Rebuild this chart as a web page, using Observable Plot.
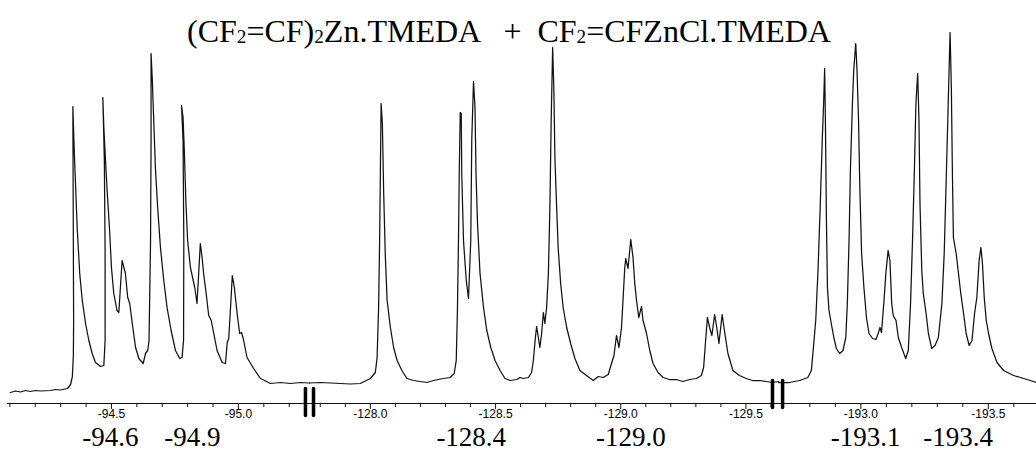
<!DOCTYPE html>
<html><head><meta charset="utf-8">
<script src="https://cdn.jsdelivr.net/npm/d3@7"></script>
<script src="https://cdn.jsdelivr.net/npm/@observablehq/plot@0.6"></script>
<style>
body{margin:0;background:#fff;}
#wrap{position:relative;width:1036px;height:452px;overflow:hidden;}
#chart{position:absolute;left:0;top:0;}
#title{position:absolute;left:187px;top:15px;font-family:"Liberation Serif","Times New Roman","DejaVu Serif",serif;font-size:32px;line-height:32px;white-space:pre;color:#000;}
#title .s{font-size:0.6em;vertical-align:-0.06em;}
</style></head><body>
<div id="wrap"><div id="chart"></div><div id="title">(CF<span class="s">2</span>=CF)<span class="s">2</span>Zn.TMEDA   +  CF<span class="s">2</span>=CFZnCl.TMEDA</div></div>
<script>
// ---- data: 19F chemical shift (ppm) vs intensity (arbitrary units) ----
const spectrumA = [ // -94 ... -95.3 ppm
[-94.102,-11],[-94.122,-9.5],[-94.142,-10.5],[-94.161,-9],[-94.181,-10],[-94.201,-9],[-94.220,-9.5],[-94.260,-9],[-94.280,-8],[-94.299,-8.5],
[-94.327,-7],[-94.339,-3],[-94.346,5],[-94.350,26],[-94.351,61],[-94.350,131],[-94.349,201],[-94.348,275],[-94.352,241],[-94.358,201],
[-94.365,154],[-94.375,108],[-94.385,81],[-94.398,58],[-94.411,41],[-94.424,28],[-94.437,19],[-94.457,15],[-94.470,16],[-94.475,41],
[-94.475,131],[-94.472,221],[-94.466,284],[-94.470,254],[-94.476,224],[-94.483,191],[-94.492,154],[-94.500,114],[-94.509,88],[-94.522,71],
[-94.529,69],[-94.542,121],[-94.555,108],[-94.564,84],[-94.572,78],[-94.582,58],[-94.595,34],[-94.608,23],[-94.625,18],[-94.634,28],
[-94.643,31],[-94.648,41],[-94.654,141],[-94.656,241],[-94.656,328],[-94.661,301],[-94.667,258],[-94.673,214],[-94.682,174],[-94.693,134],
[-94.706,101],[-94.719,74],[-94.735,51],[-94.752,31],[-94.769,23],[-94.778,24],[-94.784,41],[-94.785,141],[-94.782,241],[-94.776,276],
[-94.782,264],[-94.787,231],[-94.793,181],[-94.800,141],[-94.811,114],[-94.822,101],[-94.828,94],[-94.837,78],[-94.850,138],[-94.857,124],
[-94.863,108],[-94.873,88],[-94.883,66],[-94.893,61],[-94.903,48],[-94.916,31],[-94.936,19],[-94.949,18],[-94.956,39],[-94.962,43],
[-94.969,74],[-94.976,106],[-94.984,94],[-94.995,68],[-95.005,48],[-95.012,49],[-95.019,43],[-95.034,24],[-95.060,13],[-95.087,3],
[-95.126,-2],[-95.165,-1],[-95.205,-2],[-95.244,-1],[-95.280,-1.5]
];
const spectrumB = [ // -127.8 ... -129.6 ppm
[-127.757,-1.5],[-127.801,-1],[-127.881,-2],[-127.920,-2.5],[-127.960,-2],[-128.000,3],[-128.020,9],[-128.027,24],[-128.033,74],[-128.037,141],
[-128.040,208],[-128.043,278],[-128.048,258],[-128.053,191],[-128.060,124],[-128.067,81],[-128.080,54],[-128.093,34],[-128.107,21],[-128.126,11],
[-128.146,3],[-128.173,1],[-128.199,0],[-128.226,-1],[-128.252,1],[-128.292,3],[-128.319,4],[-128.335,8],[-128.343,21],[-128.348,74],
[-128.352,141],[-128.355,208],[-128.359,269],[-128.363,268],[-128.365,208],[-128.372,141],[-128.383,101],[-128.392,83],[-128.401,141],[-128.405,241],
[-128.412,300],[-128.418,274],[-128.422,208],[-128.428,158],[-128.438,108],[-128.452,74],[-128.465,51],[-128.481,34],[-128.498,21],[-128.518,11],
[-128.538,3],[-128.558,1],[-128.585,2],[-128.598,4],[-128.611,3],[-128.631,4],[-128.644,9],[-128.651,21],[-128.658,41],[-128.664,55],
[-128.671,44],[-128.677,34],[-128.684,48],[-128.691,69],[-128.697,58],[-128.704,74],[-128.711,108],[-128.717,174],[-128.722,258],[-128.728,334],
[-128.733,291],[-128.737,224],[-128.744,174],[-128.750,134],[-128.760,98],[-128.770,74],[-128.784,54],[-128.800,38],[-128.817,23],[-128.837,11],
[-128.863,6],[-128.890,1],[-128.910,5],[-128.930,4],[-128.950,7],[-128.963,18],[-128.973,26],[-128.983,46],[-128.993,34],[-129.003,54],
[-129.009,81],[-129.016,114],[-129.020,123],[-129.029,113],[-129.040,142],[-129.049,124],[-129.056,98],[-129.063,81],[-129.072,64],[-129.083,75],
[-129.089,61],[-129.103,48],[-129.116,31],[-129.129,18],[-129.149,9],[-129.169,4],[-129.195,2],[-129.222,2],[-129.248,0],[-129.275,2],
[-129.302,3],[-129.322,6],[-129.331,14],[-129.339,41],[-129.346,64],[-129.355,54],[-129.364,46],[-129.375,67],[-129.384,53],[-129.392,38],
[-129.405,67],[-129.414,51],[-129.428,28],[-129.448,11],[-129.474,6],[-129.501,3],[-129.527,1],[-129.554,1],[-129.581,0],[-129.605,-1],[-129.630,0]
];
const spectrumC = [ // -192.7 ... -193.7 ppm
[-192.677,-1],[-192.720,-1],[-192.760,1],[-192.792,4],[-192.806,11],[-192.812,28],[-192.823,61],[-192.832,111],[-192.841,178],[-192.849,244],
[-192.854,278],[-192.858,313],[-192.861,261],[-192.865,161],[-192.869,94],[-192.875,71],[-192.884,58],[-192.894,44],[-192.904,33],[-192.917,28],
[-192.930,31],[-192.941,44],[-192.947,78],[-192.954,144],[-192.959,211],[-192.967,278],[-192.972,311],[-192.980,338],[-192.985,311],[-192.991,261],
[-192.996,194],[-193.003,128],[-193.012,94],[-193.022,64],[-193.032,48],[-193.046,43],[-193.059,42],[-193.068,48],[-193.075,54],[-193.081,49],
[-193.090,78],[-193.098,108],[-193.107,131],[-193.114,121],[-193.121,78],[-193.127,66],[-193.138,61],[-193.147,44],[-193.160,34],[-193.176,23],
[-193.186,31],[-193.195,78],[-193.203,144],[-193.210,211],[-193.216,278],[-193.223,308],[-193.228,261],[-193.232,178],[-193.239,111],[-193.245,88],
[-193.256,68],[-193.265,48],[-193.278,33],[-193.291,36],[-193.304,44],[-193.318,78],[-193.327,128],[-193.334,194],[-193.341,261],[-193.346,311],
[-193.350,349],[-193.355,294],[-193.359,211],[-193.363,144],[-193.374,128],[-193.383,108],[-193.392,88],[-193.403,68],[-193.413,48],[-193.425,36],
[-193.436,41],[-193.446,68],[-193.455,84],[-193.464,121],[-193.471,134],[-193.477,118],[-193.484,84],[-193.492,61],[-193.501,48],[-193.514,33],
[-193.534,19],[-193.560,11],[-193.599,6],[-193.639,3],[-193.665,1],[-193.689,-1]
];
// broken axis: visible ppm windows (start, end) of the three segments
const segmentWindows = [[-94.063,-95.280],[-127.757,-129.630],[-192.677,-193.689]];
const minorTicks = [-94.1,-94.2,-94.3,-94.4,-94.6,-94.7,-94.8,-94.9,-95.1,-95.2,
  -127.8,-127.9,-128.1,-128.2,-128.3,-128.4,-128.6,-128.7,-128.8,-128.9,-129.1,-129.2,-129.3,-129.4,-129.6,
  -192.8,-192.9,-193.1,-193.2,-193.3,-193.4,-193.6];
const majorTicks = [-94.5,-95.0,-128.0,-128.5,-129.0,-129.5,-193.0,-193.5];
const breakMarks = [-95.264,-127.773,-129.606,-192.693];
const breakTop = [-7,-7,1,1];
const breakBottom = [-34,-34,-26,-26];
const peakLabels = ["-94.6","-94.9","-128.4","-129.0","-193.1","-193.4"];
const peakLabelAt = [-94.496,-94.819,-128.403,-129.040,-193.019,-193.382];
const axisLevel = -22;

// ---- layout ----
const W = 1036, H = 452;
const breakPx = [309, 778];
const xDomain = segmentWindows.flat();
const xRange = [0, breakPx[0], breakPx[0], breakPx[1], breakPx[1], W];

const ink = "#111";
const chart = Plot.plot({
  width: W, height: H,
  marginTop: 0, marginLeft: 0, marginRight: 0, marginBottom: 49,
  style: {background: "white", color: "black", overflow: "visible"},
  x: {type: "linear", domain: xDomain, range: xRange},
  y: {domain: [0, 350], range: [381, 31], axis: null},
  marks: [
    Plot.ruleY([axisLevel], {x1: -94.09, x2: segmentWindows[2][1], stroke: ink, strokeWidth: 1}),
    Plot.axisX({ticks: minorTicks, tickSize: 4, tickFormat: () => "", label: null, stroke: ink}),
    Plot.axisX({ticks: majorTicks, tickSize: 6, tickPadding: 0, tickFormat: d => d.toFixed(1), label: null,
      fontSize: 12, fontFamily: "Liberation Sans, Arial, sans-serif", stroke: ink, fill: "black"}),
    Plot.line(spectrumA, {x: d => d[0], y: d => d[1], stroke: ink, strokeWidth: 1.25}),
    Plot.line(spectrumB, {x: d => d[0], y: d => d[1], stroke: ink, strokeWidth: 1.25}),
    Plot.line(spectrumC, {x: d => d[0], y: d => d[1], stroke: ink, strokeWidth: 1.25}),
    Plot.link(breakMarks, {x1: d => d, x2: d => d, y1: (d, i) => breakTop[i], y2: (d, i) => breakBottom[i],
      stroke: "black", strokeWidth: 3.5, strokeLinecap: "round"}),
    Plot.text(peakLabels, {x: (d, i) => peakLabelAt[i], text: d => d, frameAnchor: "bottom", dy: 42.5, lineAnchor: "bottom",
      fontSize: 27, fontFamily: "Liberation Serif, Times New Roman, serif", fill: "black"})
  ]
});
document.getElementById("chart").appendChild(chart);
</script>
</body></html>
